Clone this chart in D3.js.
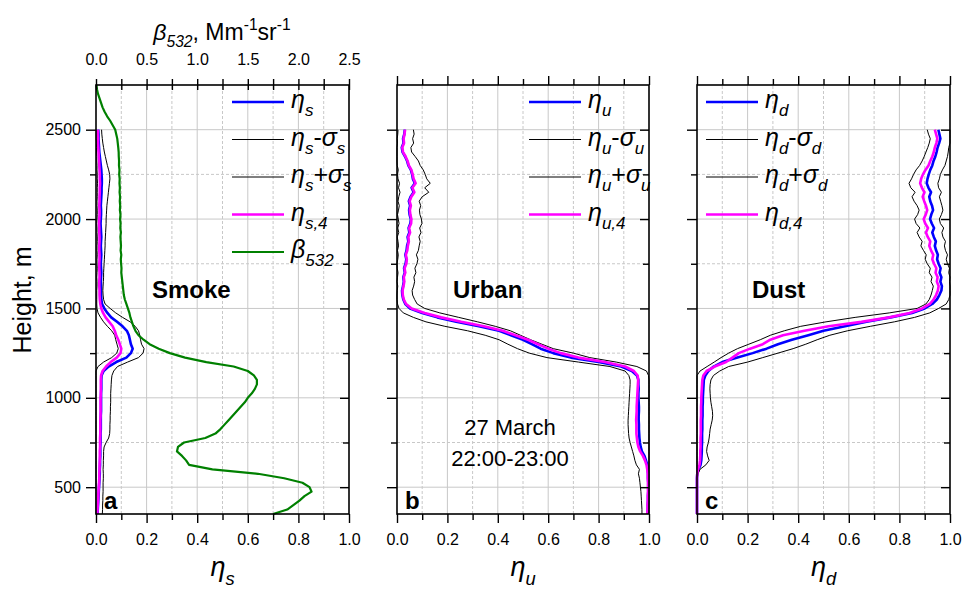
<!DOCTYPE html>
<html><head><meta charset="utf-8">
<script src="https://cdn.jsdelivr.net/npm/d3@7"></script>
<style>body{margin:0;background:#fff}svg{display:block}text{font-family:Arial,"Liberation Sans",sans-serif;fill:#000}</style>
</head><body><svg id="c" width="968" height="590"></svg>
<script>
// ---- data (heights in m) ----
const heights = [350,375,400,425,450,475,500,525,550,575,
 600,625,650,675,700,725,750,775,800,825,
 850,875,900,925,950,975,1000,1025,1050,1075,
 1100,1125,1150,1175,1200,1225,1250,1275,1300,1325,
 1350,1375,1400,1425,1450,1475,1500,1525,1550,1575,
 1600,1625,1650,1675,1700,1725,1750,1775,1800,1825,
 1850,1875,1900,1925,1950,1975,2000,2025,2050,2075,
 2100,2125,2150,2175,2200,2225,2250,2275,2300,2325,
 2350,2375,2400,2425,2450,2475,2500];

const smokeEta = [0.006,0.007,0.008,0.009,0.010,0.011,0.012,0.013,0.014,0.015,
 0.015,0.016,0.016,0.017,0.017,0.017,0.018,0.018,0.018,0.019,
 0.019,0.019,0.019,0.020,0.020,0.020,0.020,0.020,0.021,0.021,
 0.021,0.022,0.030,0.050,0.080,0.120,0.138,0.145,0.138,0.134,
 0.130,0.122,0.105,0.083,0.060,0.045,0.033,0.024,0.021,0.020,
 0.020,0.020,0.019,0.020,0.021,0.020,0.019,0.020,0.021,0.020,
 0.019,0.020,0.021,0.020,0.019,0.018,0.019,0.020,0.020,0.019,
 0.020,0.021,0.022,0.022,0.023,0.023,0.022,0.021,0.019,0.017,
 0.015,0.013,0.012,0.011,0.010,0.010,0.009];
const smokeEta4 = [0.005,0.006,0.007,0.008,0.009,0.010,0.011,0.012,0.013,0.013,
 0.014,0.014,0.015,0.015,0.015,0.016,0.016,0.016,0.017,0.017,
 0.017,0.017,0.018,0.018,0.018,0.018,0.018,0.019,0.019,0.019,
 0.019,0.020,0.026,0.040,0.058,0.082,0.097,0.100,0.094,0.088,
 0.080,0.074,0.066,0.052,0.038,0.028,0.021,0.017,0.015,0.014,
 0.014,0.013,0.013,0.014,0.014,0.013,0.013,0.014,0.014,0.013,
 0.013,0.014,0.014,0.013,0.013,0.012,0.013,0.014,0.014,0.013,
 0.014,0.014,0.015,0.015,0.016,0.015,0.015,0.014,0.013,0.012,
 0.011,0.010,0.009,0.008,0.008,0.007,0.007];
const smokeLow = [0,0,0,0,0,0,0,0,0,0,
 0,0,0,0,0,0,0,0,0,0,
 0,0,0,0,0,0,0,0,0,0,
 0.000,0.000,0.000,0.008,0.030,0.062,0.082,0.088,0.083,0.078,
 0.074,0.062,0.045,0.030,0.018,0.008,0.004,0.003,0.003,0.003,
 0.003,0.004,0.004,0.003,0.004,0.005,0.004,0.004,0.005,0.004,
 0.004,0.005,0.005,0.004,0.004,0.003,0.004,0.005,0.005,0.004,
 0.004,0.005,0.005,0.005,0.006,0.005,0.005,0.004,0.004,0.003,
 0.003,0.002,0.002,0.002,0.001,0.001,0.001];
const smokeHigh = [0.025,0.026,0.026,0.027,0.027,0.028,0.028,0.028,0.029,0.029,
 0.028,0.029,0.029,0.030,0.030,0.032,0.040,0.050,0.054,0.055,
 0.055,0.056,0.056,0.057,0.057,0.058,0.058,0.058,0.059,0.060,
 0.061,0.063,0.070,0.085,0.125,0.168,0.186,0.190,0.180,0.176,
 0.173,0.168,0.155,0.135,0.105,0.078,0.056,0.036,0.030,0.028,
 0.027,0.028,0.029,0.030,0.030,0.031,0.032,0.033,0.034,0.035,
 0.036,0.036,0.037,0.038,0.039,0.040,0.040,0.041,0.042,0.043,
 0.045,0.047,0.049,0.051,0.053,0.055,0.054,0.050,0.045,0.041,
 0.037,0.033,0.030,0.027,0.025,0.023,0.022];

const betaHeights = [350,375,400,425,450,475,500,525,550,575,
 600,625,650,675,700,725,750,775,800,825,
 850,875,900,925,950,975,1000,1025,1050,1075,
 1100,1125,1150,1175,1200,1225,1250,1275,1300,1325,
 1350,1375,1400,1425,1450,1475,1500,1525,1550,1575,
 1600,1625,1650,1675,1700,1725,1750,1775,1800,1825,
 1850,1875,1900,1925,1950,1975,2000,2025,2050,2075,
 2100,2125,2150,2175,2200,2225,2250,2275,2300,2325,
 2350,2375,2400,2425,2450,2475,2500,2525,2550,2575,
 2600,2625,2650,2675,2700,2725,2750];
const beta532 = [1.75,1.89,1.95,2.01,2.06,2.13,2.11,2.04,1.86,1.60,
 1.15,0.92,0.89,0.85,0.80,0.81,0.87,1.08,1.18,1.23,
 1.27,1.31,1.35,1.39,1.43,1.47,1.50,1.54,1.57,1.59,
 1.59,1.56,1.50,1.36,1.09,0.88,0.73,0.62,0.53,0.47,
 0.42,0.39,0.37,0.355,0.34,0.33,0.315,0.30,0.285,0.275,
 0.27,0.265,0.26,0.255,0.25,0.252,0.248,0.245,0.250,0.243,
 0.247,0.244,0.241,0.246,0.240,0.243,0.238,0.242,0.236,0.239,
 0.235,0.238,0.233,0.236,0.232,0.234,0.229,0.232,0.227,0.228,
 0.225,0.224,0.220,0.215,0.210,0.200,0.190,0.165,0.140,0.110,
 0.085,0.065,0.050,0.035,0.020,0.010,0.004];

const urbanEta = [0.994,0.995,0.995,0.996,0.996,0.997,0.997,0.997,0.996,0.996,
 0.995,0.993,0.988,0.982,0.972,0.967,0.964,0.962,0.961,0.960,
 0.960,0.959,0.959,0.960,0.960,0.959,0.958,0.958,0.959,0.958,
 0.958,0.952,0.932,0.890,0.800,0.690,0.620,0.570,0.535,0.500,
 0.452,0.405,0.325,0.235,0.160,0.100,0.052,0.033,0.025,0.021,
 0.020,0.024,0.027,0.025,0.031,0.028,0.034,0.037,0.033,0.038,
 0.040,0.045,0.042,0.049,0.046,0.053,0.055,0.050,0.048,0.052,
 0.047,0.054,0.066,0.058,0.071,0.063,0.060,0.055,0.045,0.040,
 0.032,0.022,0.019,0.026,0.024,0.029,0.031];
const urbanEta4 = [0.993,0.994,0.994,0.995,0.995,0.996,0.996,0.996,0.995,0.995,
 0.993,0.990,0.984,0.976,0.965,0.958,0.954,0.952,0.950,0.950,
 0.950,0.949,0.950,0.951,0.951,0.952,0.953,0.954,0.955,0.956,
 0.957,0.955,0.940,0.905,0.825,0.720,0.650,0.600,0.560,0.520,
 0.470,0.420,0.345,0.255,0.175,0.110,0.058,0.036,0.027,0.023,
 0.022,0.026,0.029,0.027,0.033,0.030,0.037,0.039,0.035,0.041,
 0.043,0.047,0.045,0.052,0.048,0.056,0.057,0.053,0.051,0.055,
 0.050,0.057,0.069,0.061,0.074,0.066,0.062,0.057,0.047,0.042,
 0.034,0.024,0.021,0.028,0.026,0.030,0.032];
const urbanLow = [0.972,0.972,0.971,0.970,0.969,0.968,0.966,0.964,0.962,0.958,
 0.962,0.950,0.944,0.940,0.935,0.930,0.925,0.921,0.919,0.918,
 0.917,0.917,0.918,0.919,0.920,0.921,0.922,0.923,0.924,0.925,
 0.925,0.920,0.905,0.845,0.720,0.595,0.525,0.478,0.440,0.405,
 0.350,0.280,0.190,0.115,0.065,0.025,0.008,0.002,0.000,0.000,
 0.001,0.003,0.000,0.002,0.004,0.001,0.000,0.003,0.005,0.002,
 0.006,0.004,0.001,0.007,0.003,0.008,0.005,0.002,0.006,0.009,
 0.004,0.007,0.012,0.006,0.010,0.004,0.002,0.005,0.001,0.000,
 0.000,0.000,0.000,0.002,0.001,0.003,0.004];
const urbanHigh = [1,1,1,1,1,1,1,1,1,1,
 1,1,1,1,1,1,1,1,1,1,
 1,1,1,1,1,1,1,1,1,1,
 1.000,0.998,0.990,0.952,0.870,0.765,0.700,0.620,0.575,0.530,
 0.490,0.450,0.390,0.320,0.245,0.170,0.110,0.080,0.070,0.062,
 0.060,0.066,0.070,0.067,0.075,0.071,0.079,0.083,0.077,0.085,
 0.088,0.092,0.087,0.095,0.090,0.099,0.097,0.091,0.089,0.094,
 0.088,0.100,0.126,0.110,0.132,0.118,0.112,0.104,0.092,0.085,
 0.072,0.058,0.055,0.066,0.062,0.068,0.065];

const dustEta = [0,0,0,0,0,0,0,0,0,0.001,
 0.006,0.014,0.017,0.018,0.019,0.019,0.020,0.020,0.020,0.021,
 0.021,0.021,0.022,0.022,0.022,0.023,0.023,0.024,0.025,0.026,
 0.027,0.033,0.045,0.066,0.100,0.160,0.220,0.275,0.320,0.375,
 0.440,0.500,0.585,0.670,0.765,0.850,0.900,0.930,0.948,0.958,
 0.966,0.968,0.962,0.966,0.959,0.963,0.955,0.949,0.952,0.945,
 0.940,0.944,0.936,0.930,0.937,0.928,0.921,0.926,0.933,0.929,
 0.922,0.918,0.925,0.915,0.908,0.911,0.916,0.922,0.930,0.935,
 0.942,0.947,0.951,0.957,0.962,0.958,0.954];
const dustEta4 = [0,0,0,0,0,0,0,0,0,0.001,
 0.004,0.010,0.012,0.013,0.013,0.014,0.014,0.014,0.015,0.015,
 0.015,0.015,0.016,0.016,0.016,0.017,0.017,0.018,0.019,0.020,
 0.021,0.025,0.038,0.070,0.115,0.140,0.165,0.210,0.260,0.290,
 0.340,0.425,0.520,0.650,0.760,0.840,0.890,0.920,0.935,0.945,
 0.952,0.955,0.948,0.951,0.943,0.946,0.937,0.930,0.934,0.925,
 0.918,0.922,0.912,0.905,0.913,0.902,0.896,0.904,0.910,0.905,
 0.898,0.892,0.899,0.889,0.882,0.886,0.893,0.903,0.915,0.922,
 0.930,0.936,0.940,0.946,0.950,0.945,0.940];
const dustLow = [0,0,0,0,0,0,0,0,0,0,
 0,0,0,0,0,0,0,0,0,0,
 0,0,0,0,0,0,0,0,0,0,
 0.000,0.000,0.012,0.040,0.068,0.095,0.125,0.160,0.205,0.250,
 0.290,0.345,0.410,0.510,0.625,0.760,0.870,0.905,0.918,0.925,
 0.930,0.934,0.925,0.929,0.918,0.922,0.910,0.902,0.906,0.895,
 0.885,0.890,0.878,0.870,0.881,0.866,0.860,0.872,0.878,0.870,
 0.858,0.850,0.862,0.845,0.838,0.848,0.856,0.866,0.880,0.890,
 0.898,0.905,0.912,0.918,0.922,0.915,0.910];
const dustHigh = [0,0,0,0,0,0,0,0,0.001,0.004,
 0.012,0.035,0.048,0.042,0.038,0.040,0.045,0.048,0.050,0.052,
 0.056,0.060,0.062,0.061,0.058,0.055,0.053,0.052,0.051,0.052,
 0.055,0.065,0.090,0.125,0.200,0.260,0.320,0.380,0.430,0.475,
 0.525,0.595,0.685,0.780,0.860,0.920,0.955,0.985,0.995,1.000,
 1.000,1.000,0.998,1.000,0.995,0.998,0.990,0.985,0.990,0.982,
 0.978,0.982,0.972,0.968,0.975,0.962,0.958,0.966,0.972,0.968,
 0.963,0.958,0.966,0.955,0.952,0.958,0.962,0.970,0.980,0.985,
 0.990,0.993,0.995,1.000,1.000,1.000,1.000];

const yMajor = [500,1000,1500,2000,2500], yMinor = [750,1250,1750,2250];
const xMajor = [0,0.2,0.4,0.6,0.8,1.0], xMinor = [0.1,0.3,0.5,0.7,0.9];
const betaMajor = [0,0.5,1.0,1.5,2.0,2.5], betaMinor = [0.25,0.75,1.25,1.75,2.25];

// ---- drawing ----
const FONT = 'Arial, "Liberation Sans", sans-serif';
const svg = d3.select('#c');
const y = d3.scaleLinear().domain([350,2750]).range([514,85]);
const [yB, yT] = y.range();

function rich(sel, x, yy, parts, size, anchor){
  const t = sel.append('text').attr('x',x).attr('y',yy).attr('font-size',size)
    .attr('text-anchor',anchor||'start').attr('font-family',FONT);
  let shift = 0;
  parts.forEach(p=>{
    const ts = t.append('tspan').text(p.t);
    const target = p.sub ? size*0.32 : (p.sup ? -size*0.42 : 0);
    ts.attr('dy', target-shift); shift = target;
    if (p.sub||p.sup) ts.attr('font-size', size*0.68);
    if (p.i) ts.attr('font-style','italic');
  });
  return t;
}
function styleAxis(g, size){
  g.select('.domain').remove();
  g.attr('font-size', size||16).attr('font-family', FONT);
  g.selectAll('line').attr('stroke','#000').attr('stroke-width',1.4);
  g.selectAll('text').attr('fill','#000');
}
const etaLabel = s => [{t:'η',i:1},{t:s,sub:1,i:1}];

const panels = [
  {left:96, right:349, sub:'s', eta:smokeEta, eta4:smokeEta4, lo:smokeLow, hi:smokeHigh,
   name:'Smoke', nameX:152, letter:'a', legX:232, yLabels:true, beta:true},
  {left:397, right:649, sub:'u', eta:urbanEta, eta4:urbanEta4, lo:urbanLow, hi:urbanHigh,
   name:'Urban', nameX:453, letter:'b', legX:529, yLabels:false, beta:false},
  {left:697, right:950, sub:'d', eta:dustEta, eta4:dustEta4, lo:dustLow, hi:dustHigh,
   name:'Dust', nameX:752, letter:'c', legX:706, yLabels:false, beta:false}
];

panels.forEach(p=>{
  const x = d3.scaleLinear().domain([0,1]).range([p.left,p.right]);
  const g = svg.append('g');
  // grid
  g.selectAll('.gvM').data(xMajor.slice(1,-1)).join('line')
    .attr('x1',d=>x(d)).attr('x2',d=>x(d)).attr('y1',yB).attr('y2',yT)
    .attr('stroke','#c8c8c8').attr('stroke-width',1);
  g.selectAll('.gvm').data(xMinor).join('line')
    .attr('x1',d=>x(d)).attr('x2',d=>x(d)).attr('y1',yB).attr('y2',yT)
    .attr('stroke','#c8c8c8').attr('stroke-width',1).attr('stroke-dasharray','3,2');
  g.selectAll('.ghM').data(yMajor).join('line')
    .attr('x1',p.left).attr('x2',p.right).attr('y1',d=>y(d)).attr('y2',d=>y(d))
    .attr('stroke','#c8c8c8').attr('stroke-width',1);
  g.selectAll('.ghm').data(yMinor).join('line')
    .attr('x1',p.left).attr('x2',p.right).attr('y1',d=>y(d)).attr('y2',d=>y(d))
    .attr('stroke','#c8c8c8').attr('stroke-width',1).attr('stroke-dasharray','3,2');

  const line = (vals, hs) => d3.line().x(d=>x(d[1])).y(d=>y(d[0]))(d3.zip(hs||heights, vals));
  const series = [
    {v:p.eta, c:'#0000ff', w:2.6},
    {v:p.lo, c:'#000', w:1},
    {v:p.hi, c:'#000', w:1},
    {v:p.eta4, c:'#ff00ff', w:2.6}
  ];
  series.forEach(s=>{
    g.append('path').attr('d',line(s.v)).attr('fill','none').attr('stroke',s.c).attr('stroke-width',s.w)
     .attr('stroke-linejoin','round');
  });
  if (p.beta){
    const xb = d3.scaleLinear().domain([0,2.5]).range([p.left,p.right]);
    g.append('path').attr('d', d3.line().x(d=>xb(d[1])).y(d=>y(d[0]))(d3.zip(betaHeights,beta532)))
      .attr('fill','none').attr('stroke','#008000').attr('stroke-width',2.2).attr('stroke-linejoin','round');
    const ta = g.append('g').attr('transform',`translate(0,${yT})`)
      .call(d3.axisTop(xb).tickValues(betaMajor).tickFormat(d3.format('.1f')).tickSize(6).tickPadding(14).tickSizeOuter(0));
    styleAxis(ta,16);
    const tm = g.append('g').attr('transform',`translate(0,${yT})`)
      .call(d3.axisTop(xb).tickValues(betaMinor).tickFormat('').tickSize(6).tickSizeOuter(0));
    styleAxis(tm);
    const ti = g.append('g').attr('transform',`translate(0,${yT})`)
      .call(d3.axisTop(xb).tickValues(betaMajor.concat(betaMinor)).tickFormat('').tickSize(-5).tickSizeOuter(0));
    styleAxis(ti);
  } else {
    const ta = g.append('g').attr('transform',`translate(0,${yT})`)
      .call(d3.axisTop(x).tickValues(xMajor).tickFormat('').tickSize(9).tickSizeOuter(0));
    styleAxis(ta);
    const tm = g.append('g').attr('transform',`translate(0,${yT})`)
      .call(d3.axisTop(x).tickValues(xMinor).tickFormat('').tickSize(6).tickSizeOuter(0));
    styleAxis(tm);
  }
  g.append('rect').attr('x',p.left).attr('y',yT).attr('width',p.right-p.left).attr('height',yB-yT)
    .attr('fill','none').attr('stroke','#000').attr('stroke-width',1.6);
  const ba = g.append('g').attr('transform',`translate(0,${yB})`)
    .call(d3.axisBottom(x).tickValues(xMajor).tickFormat(d3.format('.1f')).tickSize(9).tickPadding(11).tickSizeOuter(0));
  styleAxis(ba,16);
  const bm = g.append('g').attr('transform',`translate(0,${yB})`)
    .call(d3.axisBottom(x).tickValues(xMinor).tickFormat('').tickSize(6).tickSizeOuter(0));
  styleAxis(bm);
  const la = g.append('g').attr('transform',`translate(${p.left},0)`)
    .call(d3.axisLeft(y).tickValues(yMajor).tickFormat(p.yLabels? d3.format('d') : '').tickSize(10).tickPadding(5).tickSizeOuter(0));
  styleAxis(la,16);
  const lm = g.append('g').attr('transform',`translate(${p.left},0)`)
    .call(d3.axisLeft(y).tickValues(yMinor).tickFormat('').tickSize(6).tickSizeOuter(0));
  styleAxis(lm);
  const ra = g.append('g').attr('transform',`translate(${p.right},0)`)
    .call(d3.axisRight(y).tickValues(yMajor).tickFormat('').tickSize(-9).tickSizeOuter(0));
  styleAxis(ra);
  const rm = g.append('g').attr('transform',`translate(${p.right},0)`)
    .call(d3.axisRight(y).tickValues(yMinor).tickFormat('').tickSize(-6).tickSizeOuter(0));
  styleAxis(rm);

  // legend
  const s = p.sub;
  const leg = [
    {c:'#0000ff', w:2.6, parts:etaLabel(s)},
    {c:'#000', w:1, parts:[{t:'η',i:1},{t:s,sub:1,i:1},{t:'-'},{t:'σ',i:1},{t:s,sub:1,i:1}]},
    {c:'#000', w:1, parts:[{t:'η',i:1},{t:s,sub:1,i:1},{t:'+'},{t:'σ',i:1},{t:s,sub:1,i:1}]},
    {c:'#ff00ff', w:2.6, parts:[{t:'η',i:1},{t:s+',4',sub:1,i:1}]}
  ];
  if (p.beta) leg.push({c:'#008000', w:2.2, parts:[{t:'β',i:1},{t:'532',sub:1,i:1}]});
  leg.forEach((e,k)=>{
    const ly = 102 + k*37.5;
    g.append('line').attr('x1',p.legX).attr('x2',p.legX+52).attr('y1',ly).attr('y2',ly)
      .attr('stroke',e.c).attr('stroke-width',e.w);
    rich(g, p.legX+59, ly+6, e.parts, 25);
  });

  g.append('text').attr('x',p.nameX).attr('y',298).attr('font-size',24).attr('font-weight','bold')
    .attr('font-family',FONT).text(p.name);
  g.append('text').attr('x',p.left+8).attr('y',509).attr('font-size',24).attr('font-weight','bold')
    .attr('font-family',FONT).text(p.letter);
  rich(g, (p.left+p.right)/2, 576, etaLabel(s), 27, 'middle');
});

svg.append('text').attr('x',510).attr('y',435).attr('font-size',22).attr('text-anchor','middle')
  .attr('font-family',FONT).text('27 March');
svg.append('text').attr('x',510).attr('y',466).attr('font-size',22).attr('text-anchor','middle')
  .attr('font-family',FONT).text('22:00-23:00');

rich(svg, 222, 40, [{t:'β',i:1},{t:'532',sub:1,i:1},{t:', Mm'},{t:'-1',sup:1},{t:'sr'},{t:'-1',sup:1}], 23, 'middle');

svg.append('text').attr('transform','translate(31,300) rotate(-90)').attr('text-anchor','middle')
  .attr('font-size',25).attr('font-family',FONT).text('Height, m');
</script></body></html>
